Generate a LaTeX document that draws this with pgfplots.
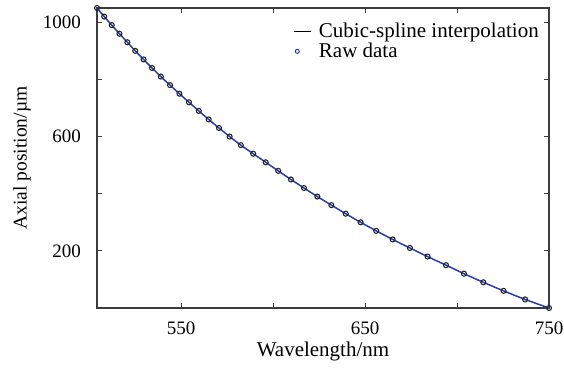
\documentclass[border=0pt]{standalone}
\usepackage{pgfplots}
\pgfplotsset{compat=1.18}
\usepackage{fontspec}
\setmainfont{Liberation Serif}
\definecolor{curveblue}{RGB}{40,60,175}
\definecolor{axgray}{RGB}{60,60,60}
\begin{document}
\begin{tikzpicture}
\path[use as bounding box] (-97pt,-63pt) rectangle (467pt,308pt);
\begin{axis}[
  scale only axis,
  width=452pt, height=300pt,
  xmin=504.3, xmax=750, ymin=0, ymax=1050,
  font=\fontsize{19}{22}\selectfont,
  /pgf/number format/assume math mode=true,
  axis line style={axgray, line width=1.1pt},
  every tick/.style={axgray, line width=0.9pt},
  major tick length=5pt,
  tick align=inside,
  xtick={550,600,650,700,750},
  xticklabels={550,,650,,750},
  ytick={0,200,400,600,800,1000},
  yticklabels={,200,,600,,1000},
  xticklabel style={inner sep=0pt, yshift=-14pt},
  yticklabel style={inner sep=0pt, xshift=-16pt},
  xlabel={Wavelength/nm},
  ylabel={Axial position/µm},
  xlabel style={at={(axis description cs:0.5,0)}, anchor=north, inner sep=0pt, yshift=-34pt,
    font=\fontsize{21}{24}\selectfont},
  ylabel style={at={(axis description cs:0,0.5)}, anchor=south, inner sep=0pt, yshift=66pt,
    font=\fontsize{19.5}{23}\selectfont},
  legend style={at={(axis description cs:1,1)}, anchor=north east, draw=none, fill=none,
    font=\fontsize{21}{24}\selectfont, row sep=2pt, inner sep=2pt, xshift=-7pt, yshift=-12pt,
    nodes={inner sep=1pt},
    /tikz/every odd column/.append style={column sep=6pt}},
  legend cell align=left,
]
\addplot[curveblue, line width=1.5pt, smooth, no markers,
  legend image code/.code={\draw[black, line width=1.3pt] (0pt,0pt) -- (17pt,0pt);}]
coordinates {
(504.3,1050) (508.2,1020) (512.3,990) (516.5,960) (520.8,930) (525.1,900)
(529.6,870) (534.2,840) (539.0,810) (544.0,780) (549.1,750) (554.3,720)
(559.6,690) (565.0,660) (570.6,630) (576.4,600) (582.5,570) (589.2,540)
(596.0,510) (602.8,480) (609.7,450) (616.8,420) (624.1,390) (631.7,360)
(639.5,330) (647.6,300) (656.1,270) (665.0,240) (674.4,210) (684.0,180)
(694.0,150) (703.8,120) (714.3,90) (725.3,60) (737.0,30) (750.0,0)
};
\addlegendentry{Cubic-spline interpolation}
\addplot[only marks, mark=o, mark size=2.5pt, mark options={draw=black!85, line width=1.1pt},
  legend image code/.code={\draw[curveblue, line width=1pt] (3pt,0pt) circle (2pt);}]
coordinates {
(504.3,1050) (508.2,1020) (512.3,990) (516.5,960) (520.8,930) (525.1,900)
(529.6,870) (534.2,840) (539.0,810) (544.0,780) (549.1,750) (554.3,720)
(559.6,690) (565.0,660) (570.6,630) (576.4,600) (582.5,570) (589.2,540)
(596.0,510) (602.8,480) (609.7,450) (616.8,420) (624.1,390) (631.7,360)
(639.5,330) (647.6,300) (656.1,270) (665.0,240) (674.4,210) (684.0,180)
(694.0,150) (703.8,120) (714.3,90) (725.3,60) (737.0,30) (750.0,0)
};
\addlegendentry{Raw data}
\end{axis}
\end{tikzpicture}
\end{document}
